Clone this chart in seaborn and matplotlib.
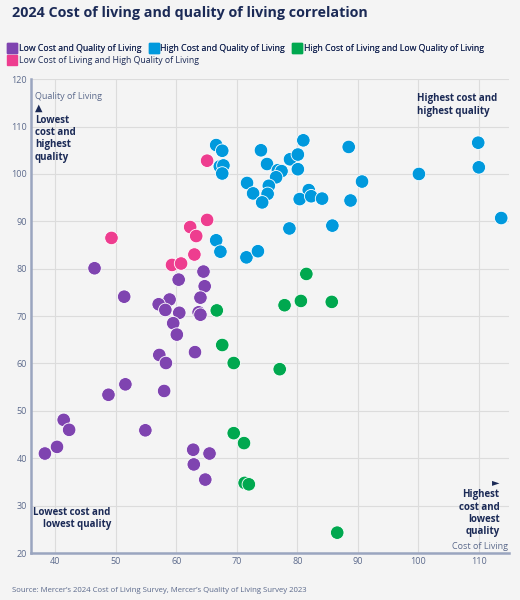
import pandas as pd
import matplotlib.pyplot as plt
import seaborn as sns
from matplotlib.lines import Line2D

# group names
low_low = "Low Cost and Quality of Living"
high_high = "High Cost and Quality of Living"
high_low = "High Cost of Living and Low Quality of Living"
low_high = "Low Cost of Living and High Quality of Living"

# cost of living / quality of living
low_low_cost = [46.5, 51.4, 60.4, 64.5, 64.7, 64.0, 58.9, 57.1, 58.2, 60.5, 63.7, 64.0, 59.5, 60.1,
                57.2, 58.3, 63.1, 51.6, 48.8, 58.0, 41.4, 42.3, 40.3, 38.3, 54.9, 62.8, 65.5, 62.9, 64.8]
low_low_qual = [80.1, 74.1, 77.7, 79.4, 76.3, 73.9, 73.5, 72.5, 71.3, 70.7, 70.8, 70.3, 68.5, 66.1,
                61.8, 60.1, 62.4, 55.6, 53.4, 54.2, 48.1, 46.0, 42.4, 41.0, 45.9, 41.8, 41.0, 38.7, 35.5]

high_high_cost = [66.6, 67.6, 67.2, 67.8, 67.6, 74.0, 81.0, 88.5, 75.0, 78.8, 80.1, 80.1, 76.8, 77.4,
                  76.5, 71.7, 75.3, 72.7, 75.1, 74.2, 81.9, 80.4, 82.3, 84.1, 88.8, 78.7, 85.8, 66.6,
                  67.3, 71.6, 73.5, 90.7, 100.1, 109.9, 110.0, 113.7]
high_high_qual = [106.1, 104.9, 101.6, 101.8, 100.1, 105.0, 107.1, 105.7, 102.1, 103.1, 104.1, 101.0,
                  100.8, 100.6, 99.3, 98.1, 97.5, 95.9, 95.8, 94.0, 96.6, 94.7, 95.3, 94.8, 94.4, 88.5,
                  89.1, 86.0, 83.6, 82.4, 83.7, 98.4, 100.0, 106.6, 101.4, 90.7]

high_low_cost = [66.7, 67.6, 69.5, 69.5, 71.2, 71.3, 72.0, 81.5, 77.9, 80.6, 85.7, 77.1, 86.6]
high_low_qual = [71.2, 63.9, 60.1, 45.3, 43.2, 34.8, 34.5, 78.9, 72.3, 73.2, 73.0, 58.8, 24.3]

low_high_cost = [65.1, 49.3, 62.3, 65.1, 63.3, 63.0, 59.3, 60.8]
low_high_qual = [102.8, 86.5, 88.8, 90.3, 86.9, 83.0, 80.8, 81.1]

colors = {low_low: "#7f44b0", high_high: "#0099dd", high_low: "#00a84f", low_high: "#ee3d8f"}

navy = "#1b2a56"
axis_grey = "#5c6a8c"


def build_frame():
    parts = []
    for name, cost, qual in [(low_low, low_low_cost, low_low_qual),
                             (high_high, high_high_cost, high_high_qual),
                             (high_low, high_low_cost, high_low_qual),
                             (low_high, low_high_cost, low_high_qual)]:
        parts.append(pd.DataFrame({"cost": cost, "quality": qual, "group": name}))
    return pd.concat(parts, ignore_index=True)


def plot_chart(df):
    sns.set_theme(style="whitegrid")
    plt.rcParams["font.family"] = ["Open Sans", "DejaVu Sans"]

    fig = plt.figure(figsize=(5.2, 6.0), dpi=100, facecolor="#f4f4f4")
    ax = fig.add_axes([0.0596, 0.0783, 0.9194, 0.7897])
    ax.set_facecolor("#f4f4f4")

    sns.scatterplot(data=df, x="cost", y="quality", hue="group", palette=colors,
                    s=95, edgecolor="white", linewidth=0.6, legend=False, ax=ax, zorder=3)

    ax.set_xlim(36, 115)
    ax.set_ylim(20, 120)
    ax.set_xticks(range(40, 111, 10))
    ax.set_yticks(range(20, 121, 10))
    ax.grid(True, color="#dcdcdc", linewidth=0.8)
    ax.set_xlabel("")
    ax.set_ylabel("")
    ax.tick_params(axis="both", labelsize=6.5, colors=axis_grey, length=0, pad=3)
    for side in ["top", "right"]:
        ax.spines[side].set_visible(False)
    for side in ["left", "bottom"]:
        ax.spines[side].set_color("#9aa5bf")
        ax.spines[side].set_linewidth(1.8)

    # axis captions and quadrant notes
    note = dict(transform=ax.transAxes, fontsize=7, fontweight="bold", color=navy, linespacing=1.15)
    ax.text(0.008, 0.972, "Quality of Living", transform=ax.transAxes, fontsize=6.5,
            color=axis_grey, va="top", ha="left")
    ax.text(0.998, 0.004, "Cost of Living", transform=ax.transAxes, fontsize=6.5,
            color=axis_grey, va="bottom", ha="right")
    ax.text(0.008, 0.95, "\u25b2\nLowest\ncost and\nhighest\nquality",
            va="top", ha="left", **note)
    ax.text(0.976, 0.97, "Highest cost and\nhighest quality",
            va="top", ha="right", multialignment="left", **note)
    ax.text(0.167, 0.048, "Lowest cost and\nlowest quality",
            va="bottom", ha="right", multialignment="right", **note)
    ax.text(0.98, 0.034, "\u25ba\nHighest\ncost and\nlowest\nquality",
            va="bottom", ha="right", multialignment="right", **note)

    fig.text(0.023, 0.99, "2024 Cost of living and quality of living correlation",
             fontsize=10.3, fontweight="bold", color=navy, va="top", ha="left")

    def handles(names):
        return [Line2D([], [], marker="s", linestyle="", markersize=7,
                       markerfacecolor=colors[n], markeredgecolor=colors[n]) for n in names]

    kw = dict(loc="upper left", frameon=False, fontsize=6.3, handlelength=0.8,
              handletextpad=0.35, columnspacing=1.0, borderaxespad=0, borderpad=0,
              labelcolor=navy)
    leg1 = fig.legend(handles([low_low, high_high, high_low]), [low_low, high_high, high_low],
                      ncol=3, bbox_to_anchor=(0.017, 0.926), **kw)
    fig.add_artist(leg1)
    fig.legend(handles([low_high]), [low_high], ncol=1, bbox_to_anchor=(0.017, 0.906), **kw)

    fig.text(0.023, 0.01, "Source: Mercer\u2019s 2024 Cost of Living Survey, Mercer\u2019s Quality of Living Survey 2023",
             fontsize=5.6, color=axis_grey, va="bottom", ha="left")

    fig.savefig("out.png", dpi=100, facecolor=fig.get_facecolor())


def main():
    df = build_frame()
    plot_chart(df)


if __name__ == "__main__":
    main()
